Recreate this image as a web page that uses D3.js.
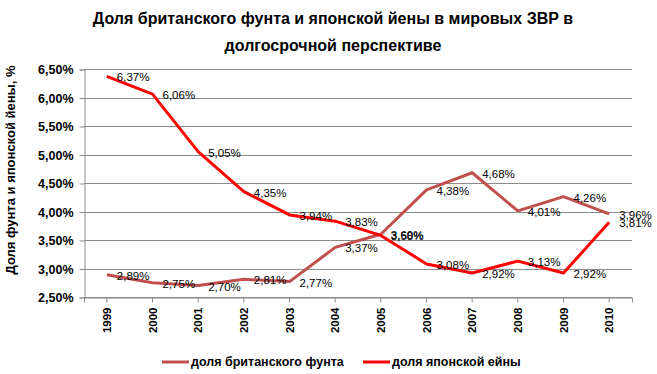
<!DOCTYPE html>
<html>
<head>
<meta charset="utf-8">
<script src="https://cdn.jsdelivr.net/npm/d3@7"></script>
<style>
  body { margin: 0; background: #fff; }
  svg { display: block; font-family: "Liberation Sans", Arial, sans-serif; }
</style>
</head>
<body>
<svg id="chart" width="657" height="374"></svg>
<script>
// data
var years = ["1999","2000","2001","2002","2003","2004","2005","2006","2007","2008","2009","2010"];
var gbp = [2.89, 2.75, 2.70, 2.81, 2.77, 3.37, 3.60, 4.38, 4.68, 4.01, 4.26, 3.96];
var jpy = [6.37, 6.06, 5.05, 4.35, 3.94, 3.83, 3.58, 3.08, 2.92, 3.13, 2.92, 3.81];
var yTicks = [2.5, 3.0, 3.5, 4.0, 4.5, 5.0, 5.5, 6.0, 6.5];
var seriesNames = ["доля британского фунта", "доля японской ейны"];
var colors = ["#C0504D", "#FF0000"];

var svg = d3.select("#chart");
var plotL = 84, plotR = 632, plotT = 69, plotB = 297;

var x = d3.scaleBand().domain(years).range([plotL, plotR]);
var y = d3.scaleLinear().domain([2.5, 6.5]).range([plotB, plotT]);
var cx = function(d, i) { return x(years[i]) + x.bandwidth() / 2; };

function fmt(v) { return v.toFixed(2).replace(".", ",") + "%"; }

// title
var title = svg.append("text")
  .attr("text-anchor", "middle")
  .attr("font-weight", "bold").attr("font-size", 16)
  .attr("fill", "#000");
title.append("tspan").attr("x", 333).attr("y", 24)
  .text("Доля  британского фунта и японской йены в мировых ЗВР в");
title.append("tspan").attr("x", 333).attr("y", 51)
  .text("долгосрочной перспективе");

// grid
svg.append("g").selectAll("line")
  .data(yTicks)
  .enter().append("line")
    .attr("x1", plotL).attr("x2", plotR)
    .attr("y1", function(d) { return Math.round(y(d)) + 0.5; })
    .attr("y2", function(d) { return Math.round(y(d)) + 0.5; })
    .attr("stroke", "#8c8c8c").attr("stroke-width", 1);

// y axis
var yAxis = d3.axisLeft(y).tickValues(yTicks).tickSize(5).tickPadding(6)
  .tickFormat(function(d) { return d.toFixed(2).replace(".", ",") + "%"; });
var gy = svg.append("g").attr("transform", "translate(" + (plotL + 0.5) + ",0.5)").call(yAxis);
gy.select(".domain").attr("stroke", "#8c8c8c");
gy.selectAll(".tick line").attr("stroke", "#8c8c8c");
gy.selectAll(".tick text")
  .attr("font-family", "Liberation Sans, Arial, sans-serif")
  .attr("font-size", 12.5).attr("font-weight", "bold").attr("fill", "#000");

// x axis
var xAxis = d3.axisBottom(x).tickSize(5).tickPadding(6).tickSizeOuter(5);
var gx = svg.append("g").attr("transform", "translate(0," + (plotB + 0.5) + ")").call(xAxis);
gx.select(".domain").attr("stroke", "#8c8c8c");
gx.selectAll(".tick line").attr("stroke", "#8c8c8c");
gx.selectAll(".tick text")
  .attr("font-family", "Liberation Sans, Arial, sans-serif")
  .attr("font-size", 11.5).attr("font-weight", "bold").attr("fill", "#000")
  .attr("transform", "rotate(-90)")
  .attr("text-anchor", "end")
  .attr("x", -10).attr("y", 0).attr("dy", "0.35em");

// y axis title
svg.append("text")
  .attr("transform", "translate(15,170) rotate(-90)")
  .attr("text-anchor", "middle")
  .attr("font-weight", "bold").attr("font-size", 13)
  .text("Доля фунта и японской  йены, %");

// lines
var line = d3.line()
  .x(function(d, i) { return cx(d, i); })
  .y(function(d) { return y(d); });

[gbp, jpy].forEach(function(s, k) {
  svg.append("path")
    .datum(s)
    .attr("d", line)
    .attr("fill", "none")
    .attr("stroke", colors[k])
    .attr("stroke-width", 3)
    .attr("stroke-linejoin", "round");
});

// data labels, to the right of the points
[gbp, jpy].forEach(function(s, k) {
  svg.append("g").selectAll("text")
    .data(s)
    .enter().append("text")
      .attr("x", function(d, i) { return cx(d, i) + 10; })
      .attr("y", function(d) { return y(d) + 1; })
      .attr("dy", "0.35em")
      .attr("font-size", 11.5)
      .attr("fill", "#000")
      .text(fmt);
});

// legend
var legend = svg.append("g");
var legX = [162, 363];
seriesNames.forEach(function(n, k) {
  legend.append("line")
    .attr("x1", legX[k]).attr("x2", legX[k] + 27)
    .attr("y1", 362).attr("y2", 362)
    .attr("stroke", colors[k]).attr("stroke-width", 3);
  legend.append("text")
    .attr("x", legX[k] + 29).attr("y", 362).attr("dy", "0.35em")
    .attr("font-size", 12.5).attr("font-weight", "bold")
    .text(n);
});
</script>
</body>
</html>
